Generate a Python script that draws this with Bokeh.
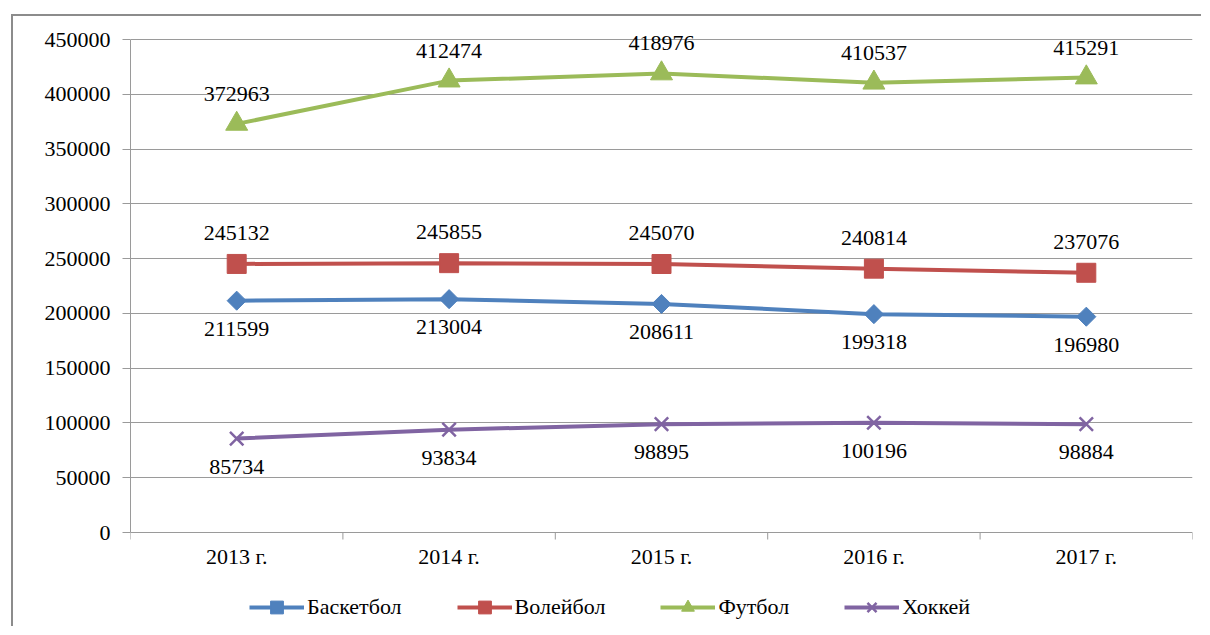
from bokeh.plotting import figure
from bokeh.models import (Range1d, FixedTicker, NumeralTickFormatter, Legend, LegendItem,
                          ColumnDataSource, LabelSet)
from bokeh.embed import file_html
from bokeh.resources import INLINE
import math

# ---- data ----
years = ["2013 г.", "2014 г.", "2015 г.", "2016 г.", "2017 г."]
basketball = [211599, 213004, 208611, 199318, 196980]
volleyball = [245132, 245855, 245070, 240814, 237076]
football = [372963, 412474, 418976, 410537, 415291]
hockey = [85734, 93834, 98895, 100196, 98884]
series_names = ["Баскетбол", "Волейбол", "Футбол", "Хоккей"]
y_ticks = [0, 50000, 100000, 150000, 200000, 250000, 300000, 350000, 400000, 450000]
y_max = 450000

# category slots: centre of each category band on a 0..N axis
xs = [i + 0.5 for i in range(len(years))]
bounds = list(range(len(years) + 1))

# ---- styles / layout ----
FONT = "Liberation Serif"
FS = "22px"
GRID = "#9a9a9a"
colors = ["#4F81BD", "#C0504D", "#9BBB59", "#8064A2"]
PLOT_H = 493          # px from 0 to y_max
TOP_PAD = 23          # px of headroom above y_max (data labels)
BOTTOM_PAD = 94       # px below 0 (category labels + legend)
per_px = y_max / PLOT_H

p = figure(x_range=Range1d(0, len(years)),
           y_range=Range1d(-BOTTOM_PAD * per_px, y_max + TOP_PAD * per_px),
           frame_width=1062, frame_height=PLOT_H + TOP_PAD + BOTTOM_PAD,
           min_border_left=117, min_border_right=9, min_border_top=0, min_border_bottom=0,
           output_backend="svg", toolbar_location=None, x_axis_location=None,
           background_fill_color="white", border_fill_color="white")
p.outline_line_color = None
p.margin = (14, 0, 0, 11)
p.styles = {"border-top": "2px solid #8c8c8c", "border-left": "2px solid #8c8c8c"}

# y axis
ya = p.yaxis[0]
ya.bounds = (0, y_max)
ya.ticker = FixedTicker(ticks=y_ticks)
ya.formatter = NumeralTickFormatter(format="0")
ya.major_tick_in = 0
ya.major_tick_out = 8
ya.major_tick_line_color = GRID
ya.minor_tick_line_color = None
ya.axis_line_color = GRID
ya.major_label_text_font = FONT
ya.major_label_text_font_size = FS
ya.major_label_text_color = "black"
ya.major_label_standoff = 12

p.ygrid.ticker = FixedTicker(ticks=y_ticks)
p.ygrid.grid_line_color = GRID
p.xgrid.grid_line_color = None

# category axis at y = 0: boundary tick marks and category labels
p.ray(x=bounds, y=[0] * len(bounds), length=7, length_units="screen",
      angle=-math.pi / 2, line_color=GRID, line_width=1)
cat_src = ColumnDataSource(dict(x=xs, y=[0] * len(xs), t=years))
p.add_layout(LabelSet(x="x", y="y", text="t", source=cat_src, text_align="center",
                      text_baseline="middle", y_offset=-24, text_font=FONT,
                      text_font_size=FS, text_color="black"))

# series
series = [basketball, volleyball, football, hockey]
markers = [dict(marker="square", size=13.5, angle=math.pi / 4),
           dict(marker="square", size=19),
           dict(marker="triangle", size=22),
           dict(marker="x", size=19, line_width=2.5)]
label_offsets = [-28, 31, 30, -28]

items = []
for name, vals, col, mk, off in zip(series_names, series, colors, markers, label_offsets):
    src = ColumnDataSource(dict(x=xs, y=vals, t=[str(v) for v in vals]))
    lr = p.line("x", "y", source=src, line_color=col, line_width=4)
    mr = p.scatter("x", "y", source=src, fill_color=col, line_color=col, **mk)
    p.add_layout(LabelSet(x="x", y="y", text="t", source=src, text_align="center",
                          text_baseline="middle", y_offset=off, text_font=FONT,
                          text_font_size=FS, text_color="black"))
    items.append(LegendItem(label=name, renderers=[lr, mr]))

legend = Legend(items=items, orientation="horizontal", location=(119, 3),
                glyph_width=55, glyph_height=32, label_standoff=3, spacing=55,
                padding=0, margin=0, border_line_color=None, background_fill_alpha=0,
                label_text_font=FONT, label_text_font_size=FS, label_text_color="black")
p.add_layout(legend, "center")

open("out.html", "w").write(file_html(p, INLINE))
